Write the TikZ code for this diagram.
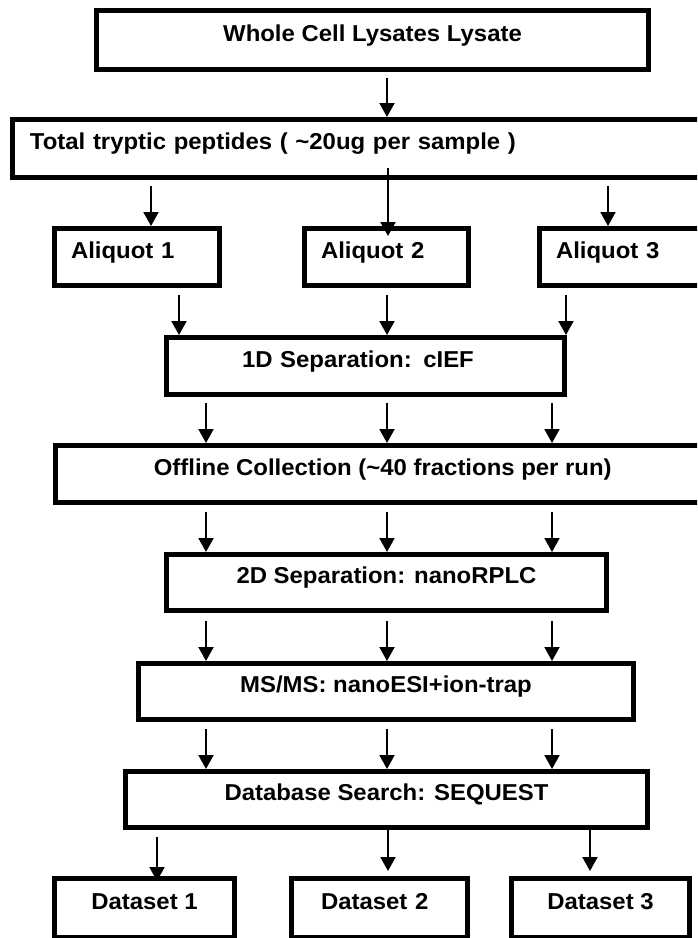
\documentclass[tikz,border=0pt]{standalone}
\usepackage{fontspec}
\setmainfont{Liberation Sans}[FakeStretch=1.04]
\usetikzlibrary{arrows.meta}

\begin{document}
\begin{tikzpicture}[x=1pt, y=-1pt,
    stepbox/.style={draw, line width=5pt, inner sep=0pt, font=\fontsize{23}{27}\selectfont\bfseries, text height=0.8em, text depth=0.52em},
    leftbox/.style={stepbox, align=left, inner xsep=#1},
    flow/.style={-{Triangle[width=15pt,length=14pt]}, line width=2pt, shorten <=6pt}]
    \useasboundingbox (0,0) rectangle (697,938);
    \clip (0,0) rectangle (697,938);

    % Boxes
    \node[stepbox, minimum width=552pt, minimum height=59pt] at (372.5, 40) (lysate) {Whole Cell Lysates Lysate};
    \node[leftbox=17.5pt, text width=662.5pt, minimum height=58pt] at (361.25, 148.5) (tryptic) {Total tryptic peptides ( \textasciitilde20ug per sample )};

    \node[leftbox=16.5pt, text width=132pt, minimum height=57pt] at (137, 257) (aliq1) {Aliquot 1};
    \node[leftbox=16.5pt, text width=131pt, minimum height=57pt] at (386.5, 257) (aliq2) {Aliquot 2};
    \node[leftbox=16.5pt, text width=137pt, minimum height=57pt] at (624.5, 257) (aliq3) {Aliquot 3};

    \node[leftbox=75.5pt, text width=247pt, minimum height=57pt] at (365.5, 366) (sep1) {1D Separation: cIEF};
    \node[stepbox, minimum width=654.5pt, minimum height=57pt] at (382.75, 474) (offline) {Offline Collection (\textasciitilde40 fractions per run)};
    \node[stepbox, minimum width=440pt, minimum height=56pt] at (386.5, 582.5) (sep2) {2D Separation: nanoRPLC};
    \node[stepbox, minimum width=495pt, minimum height=56pt] at (386, 691.5) (msms) {MS/MS: nanoESI+ion-trap};
    \node[stepbox, minimum width=522pt, minimum height=56pt] at (386.5, 799.5) (search) {Database Search: SEQUEST};

    \node[stepbox, minimum width=180pt, minimum height=59pt] at (144.5, 908) (data1) {Dataset 1};
    \node[leftbox=29.5pt, text width=117pt, minimum height=59pt] at (379.5, 908) (data2) {Dataset 2};
    \node[stepbox, minimum width=178pt, minimum height=59pt] at (600.5, 908) (data3) {Dataset 3};

    % Arrows
    \draw[flow] (lysate.south -| 387,0) -- (tryptic.north -| 387,0);

    \draw[flow] (tryptic.south -| 151,0) -- (aliq1.north -| 151,0);
    \draw[flow, shorten <=-12pt, shorten >=-10pt] (tryptic.south -| 388,0) -- (aliq2.north -| 388,0);
    \draw[flow] (tryptic.south -| 608,0) -- (aliq3.north -| 608,0);

    \draw[flow, shorten <=7pt] (aliq1.south -| 179,0) -- (sep1.north -| 179,0);
    \draw[flow, shorten <=7pt] (aliq2.south -| 387,0) -- (sep1.north -| 387,0);
    \draw[flow, shorten <=7pt] (aliq3.south -| 566,0) -- (sep1.north -| 566,0);

    \draw[flow] (sep1.south -| 206,0) -- (offline.north -| 206,0);
    \draw[flow] (sep1.south -| 387,0) -- (offline.north -| 387,0);
    \draw[flow] (sep1.south -| 552,0) -- (offline.north -| 552,0);

    \draw[flow, shorten <=7pt] (offline.south -| 206,0) -- (sep2.north -| 206,0);
    \draw[flow, shorten <=7pt] (offline.south -| 387,0) -- (sep2.north -| 387,0);
    \draw[flow, shorten <=7pt] (offline.south -| 552,0) -- (sep2.north -| 552,0);

    \draw[flow, shorten <=8pt] (sep2.south -| 206,0) -- (msms.north -| 206,0);
    \draw[flow, shorten <=8pt] (sep2.south -| 387,0) -- (msms.north -| 387,0);
    \draw[flow, shorten <=8pt] (sep2.south -| 552,0) -- (msms.north -| 552,0);

    \draw[flow, shorten <=7pt] (msms.south -| 206,0) -- (search.north -| 206,0);
    \draw[flow, shorten <=7pt] (msms.south -| 387,0) -- (search.north -| 387,0);
    \draw[flow, shorten <=7pt] (msms.south -| 552,0) -- (search.north -| 552,0);

    \draw[flow, shorten <=7pt, shorten >=-5pt] (search.south -| 157,0) -- (data1.north -| 157,0);
    \draw[flow, shorten <=-3pt, shorten >=5pt] (search.south -| 388,0) -- (data2.north -| 388,0);
    \draw[flow, shorten <=-3pt, shorten >=5pt] (search.south -| 590,0) -- (data3.north -| 590,0);

  \end{tikzpicture}
\end{document}
